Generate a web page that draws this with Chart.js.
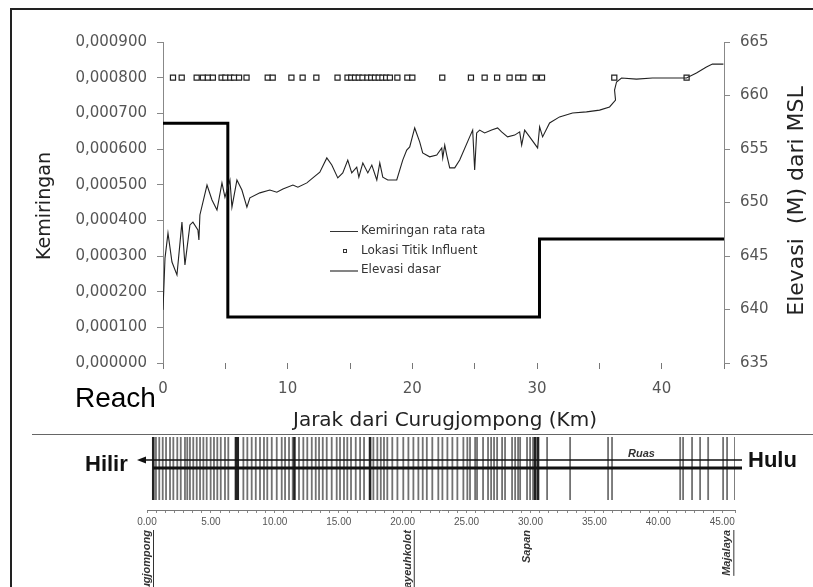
<!DOCTYPE html>
<html><head><meta charset="utf-8">
<script src="https://cdn.jsdelivr.net/npm/chart.js@4.4.0/dist/chart.umd.min.js"></script>
<style>
html,body{margin:0;padding:0;background:#fff;}
#wrap{position:relative;width:813px;height:587px;overflow:hidden;background:#fff;}
#c1{position:absolute;left:0;top:0;}
#c2{position:absolute;left:0;top:434px;}
#frame{position:absolute;left:10px;top:8px;width:812px;height:600px;border:2px solid #222;box-sizing:border-box;pointer-events:none;}
#sep{position:absolute;left:32px;top:434px;width:781px;height:1px;background:#666;}
</style></head><body>
<div id="wrap">
<canvas id="c1" width="813" height="434"></canvas>
<canvas id="c2" width="813" height="153"></canvas>
<div id="frame"></div><div id="sep"></div>
</div>
<script>
// ---------- DATA ----------
const slopeKm = [0,0.16,0.4,0.72,1.12,1.52,1.76,2.16,2.4,2.8,
 2.88,2.96,3.53,3.93,4.33,4.73,4.97,5.37,5.53,5.93,
 6.33,6.73,6.97,7.77,8.57,9.13,9.62,10.42,10.82,11.54,
 12.02,12.58,13.14,13.54,14.02,14.42,14.82,15.14,15.54,15.71,
 16.03,16.43,16.75,17.15,17.39,17.63,18.03,18.75,19.23,19.55,
 19.79,20.19,20.59,20.83,21.39,21.96,22.36,22.44,22.6,22.76,
 23.0,23.4,23.8,24.6,24.84,25.0,25.16,25.4,25.8,26.36,
 26.84,27.16,27.64,28.21,28.61,28.77,29.01,29.41,30.05,30.21,
 30.45,31.01,31.81,32.85,33.97,35.02,35.82,36.3,36.22,36.38,
 36.78,37.98,39.26,40.63,41.99,42.79,43.59,44.07,44.95];
const slopeVal = [0.000149,0.000294,0.000364,0.000283,0.000247,0.000395,0.000275,0.000387,0.000395,0.000373,
 0.000345,0.000415,0.000499,0.000457,0.000429,0.000505,0.000465,0.000513,0.000437,0.000513,
 0.000485,0.000437,0.000463,0.000477,0.000485,0.000479,0.000488,0.000499,0.000493,0.000505,
 0.000519,0.000535,0.000575,0.000555,0.000519,0.000533,0.000569,0.000533,0.000549,0.000521,
 0.000561,0.000533,0.000555,0.000513,0.000561,0.000521,0.000513,0.000513,0.000569,0.000597,
 0.000606,0.000659,0.000620,0.000589,0.000578,0.000583,0.000603,0.000575,0.000611,0.000583,
 0.000547,0.000547,0.000569,0.000634,0.000653,0.000541,0.000645,0.000653,0.000645,0.000653,
 0.000659,0.000648,0.000634,0.000639,0.000648,0.000611,0.000653,0.000634,0.000603,0.000662,
 0.000634,0.000673,0.000690,0.000701,0.000704,0.000709,0.000718,0.000737,0.000765,0.000788,
 0.000799,0.000796,0.000799,0.000799,0.000799,0.000813,0.000830,0.000838,0.000838];
const influentKm = [0.8,1.5,2.7,3.2,3.6,4.0,4.7,5.0,5.4,5.7,6.1,6.7,8.4,8.8,10.3,11.2,12.3,14.0,
 14.8,15.1,15.4,15.7,16.0,16.4,16.7,17.0,17.3,17.6,17.9,18.2,18.8,19.6,20.0,
 22.4,24.7,25.8,26.8,27.8,28.5,28.9,29.9,30.4,36.2,42.0];
const influentLevel = 0.0008;
const elevKm = [0, 5.2, 30.2, 45];
const elevVal = [657.4, 639.3, 646.6, 646.6];
const legendLabels = ['Kemiringan rata rata', 'Lokasi Titik Influent', 'Elevasi dasar'];

// schematic (lower panel)
const tributaryKm = [0.70,0.96,1.23,1.49,1.80,2.06,2.37,2.64,2.97,3.15,3.36,3.62,3.89,4.15,4.41,4.67,4.98,5.24,5.50,5.77,
 6.10,6.36,7.54,7.85,8.19,8.51,8.84,9.15,9.41,9.76,10.15,10.54,10.80,11.11,11.40,11.89,12.23,12.54,12.89,13.20,
 13.46,13.75,14.06,14.45,14.84,15.10,15.41,15.67,15.96,16.33,16.67,16.98,17.71,18.02,18.29,18.54,18.80,19.19,19.59,
 20.05,20.45,20.84,21.23,21.57,21.89,22.32,22.79,23.11,23.50,23.89,24.28,24.75,25.06,25.27,25.67,25.82,26.29,26.68,
 26.92,27.15,27.39,27.78,28.01,28.56,28.80,29.03,29.19,29.73,29.97,30.20,31.30,33.10,36.07,36.38,41.71,41.94,
 42.64,43.27,43.90,45.07,45.38,46.0];
const majorKm = [0.49,6.96,7.10,11.53,17.45,30.36,30.59];
const stationNames = ['Curugjompong','Dayeuhkolot','Sapan','Majalaya'];
const stationKm = [0, 20.4, 29.7, 45.4];

// ---------- CHARTS ----------
const FONT = "'DejaVu Sans', Verdana, sans-serif";
Chart.defaults.font.family = FONT;

const mainDeco = {
  id: 'mainDeco',
  afterDraw(chart) {
    const ctx = chart.ctx;
    ctx.save();
    // legend
    ctx.strokeStyle = '#333'; ctx.fillStyle = '#333';
    ctx.lineWidth = 1;
    ctx.beginPath(); ctx.moveTo(330, 231.5); ctx.lineTo(358, 231.5); ctx.stroke();
    ctx.strokeRect(343.5, 249.5, 3, 3);
    ctx.lineWidth = 1.2;
    ctx.beginPath(); ctx.moveTo(330, 271); ctx.lineTo(358, 271); ctx.stroke();
    ctx.font = '12px ' + FONT;
    ctx.textBaseline = 'middle'; ctx.textAlign = 'left';
    ctx.fillText(legendLabels[0], 361, 231);
    ctx.fillText(legendLabels[1], 361, 251);
    ctx.fillText(legendLabels[2], 361, 270);
    // axis titles
    ctx.fillStyle = '#222';
    ctx.textAlign = 'center';
    ctx.font = '20px ' + FONT;
    ctx.fillText('Jarak dari Curugjompong (Km)', 445, 421);
    ctx.save(); ctx.translate(45, 206); ctx.rotate(-Math.PI / 2);
    ctx.font = '19px ' + FONT; ctx.fillText('Kemiringan', 0, 0); ctx.restore();
    ctx.save(); ctx.translate(797, 201); ctx.rotate(-Math.PI / 2);
    ctx.font = '22px ' + FONT; ctx.fillText('Elevasi  (M) dari MSL', 0, 0); ctx.restore();
    // Reach
    ctx.fillStyle = '#000'; ctx.textAlign = 'left'; ctx.textBaseline = 'alphabetic';
    ctx.font = "28px 'Liberation Sans', Arial, sans-serif";
    ctx.fillText('Reach', 75, 407);
    ctx.restore();
  }
};

new Chart(document.getElementById('c1'), {
  type: 'scatter',
  data: {
    datasets: [
      { label: legendLabels[0], data: slopeKm.map((x, i) => ({x, y: slopeVal[i]})), yAxisID: 'y',
        showLine: true, borderColor: '#222', borderWidth: 1.1, pointRadius: 0, tension: 0 },
      { label: legendLabels[1], data: influentKm.map(x => ({x, y: influentLevel})), yAxisID: 'y',
        showLine: false, pointStyle: 'rect', pointRadius: 3.6, borderColor: '#222', borderWidth: 1.2,
        backgroundColor: '#fff' },
      { label: legendLabels[2], data: elevKm.map((x, i) => ({x, y: elevVal[i]})), yAxisID: 'y2',
        showLine: true, stepped: 'before', borderColor: '#000', borderWidth: 3, pointRadius: 0 }
    ]
  },
  options: {
    responsive: false, animation: false,
    layout: { padding: { top: 42, left: 0, right: 0, bottom: 0 } },
    plugins: { legend: { display: false }, tooltip: { enabled: false } },
    scales: {
      x: {
        type: 'linear', position: 'bottom', min: 0, max: 45,
        border: { display: false },
        grid: { drawOnChartArea: false, drawTicks: true, tickLength: 6, color: '#777' },
        ticks: { stepSize: 5, autoSkip: false, maxRotation: 0, padding: 11, color: '#555',
          font: { size: 15 }, callback: v => (v % 10 === 0 ? String(v) : '') },
        afterFit: s => { s.height = 434 - 363; }
      },
      y: {
        position: 'left', min: 0, max: 0.0009,
        border: { display: true, color: '#888', width: 1 },
        grid: { drawOnChartArea: false, drawTicks: true, tickLength: 6, color: '#888' },
        ticks: { stepSize: 0.0001, padding: 10, color: '#555', font: { size: 15 },
          callback: v => Number(v).toFixed(6).replace('.', ',') },
        afterFit: s => { s.width = 163; }
      },
      y2: {
        position: 'right', min: 635, max: 665,
        border: { display: true, color: '#888', width: 1 },
        grid: { drawOnChartArea: false, drawTicks: true, tickLength: 6, color: '#888' },
        ticks: { stepSize: 5, padding: 10, color: '#555', font: { size: 15 } },
        afterFit: s => { s.width = 813 - 724; }
      }
    }
  },
  plugins: [mainDeco]
});

function vlines(arr) {
  const pts = [];
  arr.forEach(k => { pts.push({x: k, y: 0}, {x: k, y: 1}, {x: k, y: null}); });
  return pts;
}

const lowDeco = {
  id: 'lowDeco',
  afterDatasetsDraw(chart) {
    const ctx = chart.ctx;
    const xs = chart.scales.x;
    ctx.save();
    ctx.strokeStyle = '#111'; ctx.fillStyle = '#111';
    // channel lines
    ctx.lineWidth = 1.3;
    ctx.beginPath(); ctx.moveTo(143, 26); ctx.lineTo(742, 26); ctx.stroke();
    ctx.beginPath(); ctx.moveTo(137, 26); ctx.lineTo(146, 22.5); ctx.lineTo(146, 29.5); ctx.closePath(); ctx.fill();
    ctx.lineWidth = 3;
    ctx.beginPath(); ctx.moveTo(153, 34); ctx.lineTo(742, 34); ctx.stroke();
    // labels
    ctx.font = "bold 22px 'Liberation Sans', Arial, sans-serif";
    ctx.textBaseline = 'alphabetic'; ctx.textAlign = 'left';
    ctx.fillText('Hilir', 85, 37);
    ctx.fillText('Hulu', 748, 33);
    ctx.font = "italic bold 11px 'Liberation Sans', Arial, sans-serif";
    ctx.fillStyle = '#333';
    ctx.fillText('Ruas', 628, 23);
    // stations
    ctx.font = "italic bold 11px 'Liberation Sans', Arial, sans-serif";
    ctx.fillStyle = '#333'; ctx.strokeStyle = '#333'; ctx.lineWidth = 1;
    stationNames.forEach((n, i) => {
      const px = xs.getPixelForValue(stationKm[i]);
      ctx.save(); ctx.translate(px, 96); ctx.rotate(-Math.PI / 2);
      ctx.textAlign = 'right'; ctx.textBaseline = 'middle';
      ctx.fillText(n, 0, 0);
      const w = ctx.measureText(n).width;
      if (i !== 2) { ctx.beginPath(); ctx.moveTo(-w, 6.5); ctx.lineTo(0, 6.5); ctx.stroke(); }
      ctx.restore();
    });
    ctx.restore();
  }
};

new Chart(document.getElementById('c2'), {
  type: 'scatter',
  data: {
    datasets: [
      { data: vlines(tributaryKm), showLine: true, spanGaps: false, borderColor: 'rgba(60,60,60,0.72)',
        borderWidth: 1.8, pointRadius: 0 },
      { data: vlines(majorKm), showLine: true, spanGaps: false, borderColor: '#222',
        borderWidth: 2.6, pointRadius: 0 }
    ]
  },
  options: {
    responsive: false, animation: false,
    layout: { padding: { top: 3, left: 147, right: 813 - 735, bottom: 0 } },
    plugins: { legend: { display: false }, tooltip: { enabled: false } },
    scales: {
      x: {
        type: 'linear', position: 'bottom', min: 0, max: 46,
        border: { display: true, color: '#777', dash: [2, 2], width: 1 },
        grid: { drawOnChartArea: false, drawTicks: true, tickLength: 3, color: '#888' },
        ticks: { stepSize: 5 / 7, autoSkip: false, maxRotation: 0, padding: 3, color: '#555',
          font: { size: 10, family: "'Liberation Sans', Arial, sans-serif" },
          callback: v => { const r = v / 5; return (Math.abs(r - Math.round(r)) < 1e-6 && v < 45.5) ? (Math.round(r) * 5).toFixed(2) : ''; } },
        afterFit: s => { s.height = 153 - 76; }
      },
      y: { display: false, min: -0.16, max: 1 }
    }
  },
  plugins: [lowDeco]
});
</script>
</body></html>
